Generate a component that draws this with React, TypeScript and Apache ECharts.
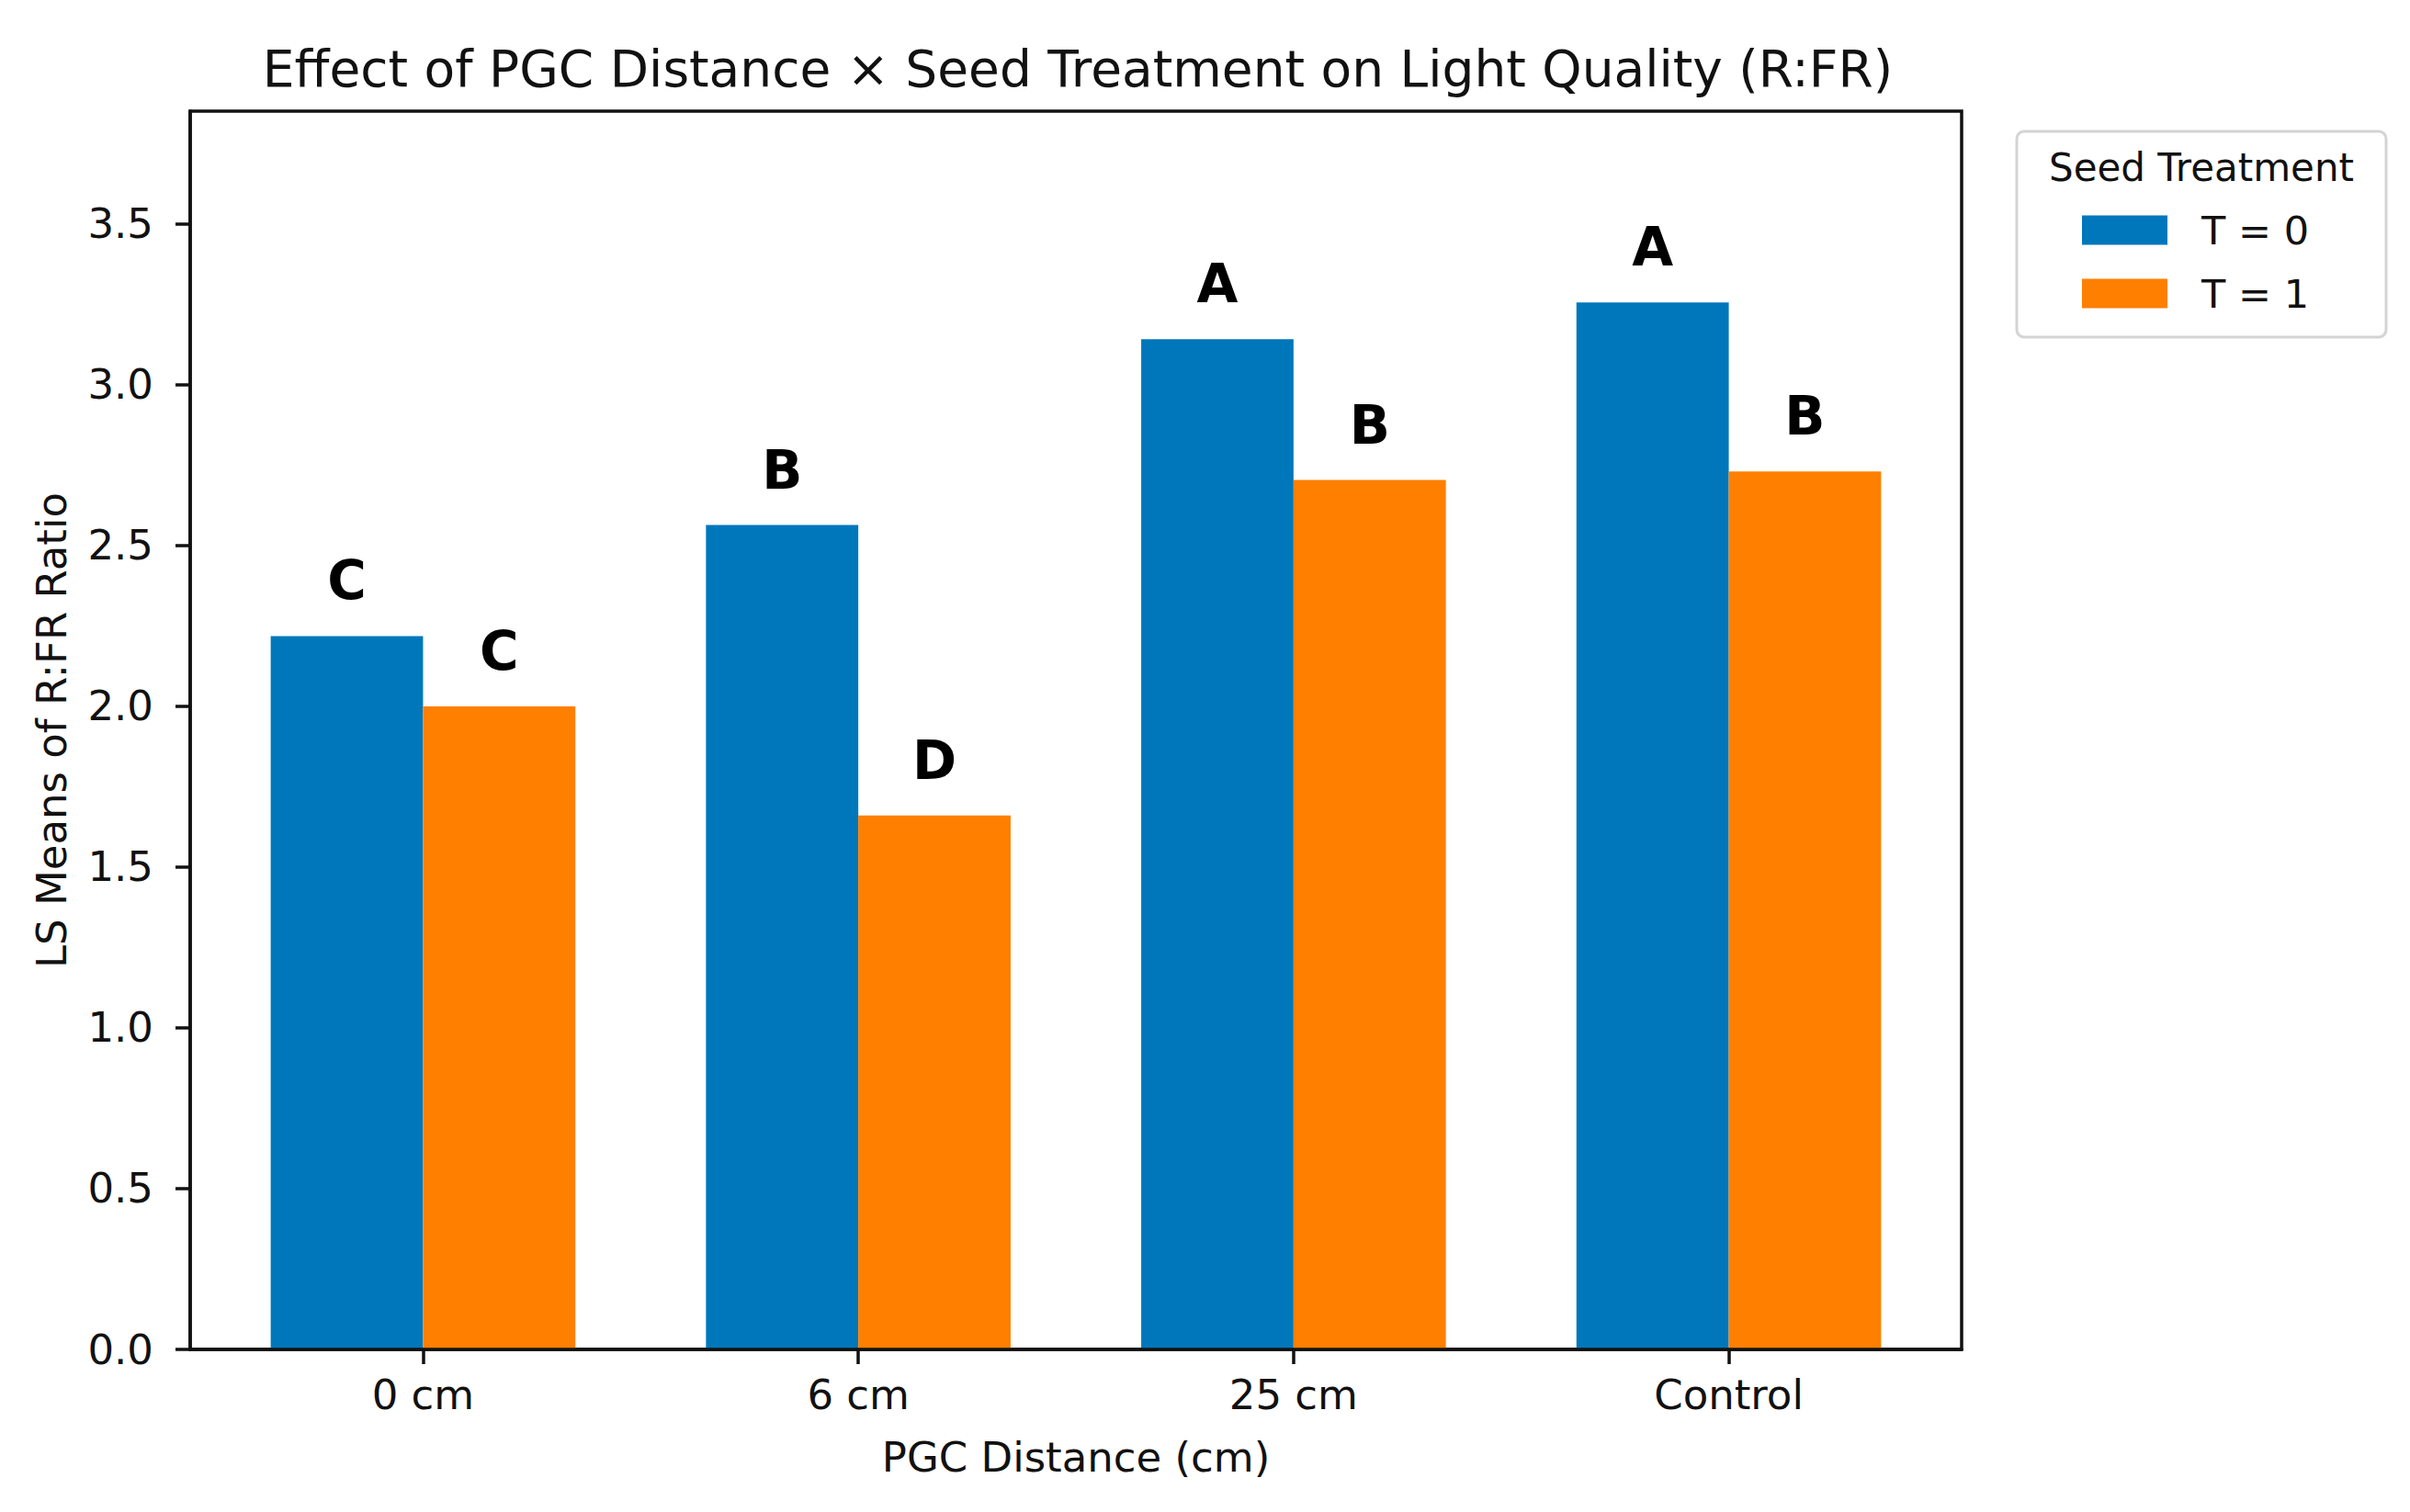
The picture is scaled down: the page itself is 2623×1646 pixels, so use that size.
import React, { useEffect, useRef } from "react";
import * as echarts from "echarts";

const CATEGORIES = ["0 cm", "6 cm", "25 cm", "Control"];
const SERIES_NAMES = ["T = 0", "T = 1"];
const T0_VALUES = [2.218, 2.563, 3.141, 3.255];
const T1_VALUES = [1.999, 1.66, 2.703, 2.73];
const T0_LETTERS = ["C", "B", "A", "A"];
const T1_LETTERS = ["C", "D", "B", "B"];
const Y_TICKS = [0, 0.5, 1.0, 1.5, 2.0, 2.5, 3.0, 3.5];
const X_TICKS = [0, 1, 2, 3];
const COLORS = ["#0077BB", "#FF7F00"];

const BAR_W = 0.35;
const FONT = "DejaVu Sans";

function makeSeries(name: string, values: number[], letters: string[], color: string, offset: number) {
  return {
    type: "custom",
    name,
    z: 2,
    itemStyle: { color },
    encode: { x: 0, y: 1 },
    data: values.map((v, i) => [i, v]),
    renderItem: (params: any, api: any) => {
      const idx = api.value(0);
      const val = api.value(1);
      const cx = idx + offset;
      const p0 = api.coord([cx - BAR_W / 2, val]);
      const p1 = api.coord([cx + BAR_W / 2, 0]);
      return {
        type: "group",
        children: [
          {
            type: "rect",
            shape: { x: p0[0], y: p0[1], width: p1[0] - p0[0], height: p1[1] - p0[1] },
            style: { fill: color },
          },
          {
            type: "text",
            x: (p0[0] + p1[0]) / 2,
            y: p0[1] - 60,
            style: {
              text: letters[idx],
              fill: "#000",
              fontSize: 58,
              fontWeight: "bold",
              fontFamily: FONT,
              align: "center",
              verticalAlign: "middle",
            },
          },
        ],
      };
    },
  };
}

export default function App() {
  const ref = useRef<HTMLDivElement>(null);
  useEffect(() => {
    if (!ref.current) return;
    const chart = echarts.init(ref.current, null, { renderer: "svg" });
    const option: any = {
      animation: false,
      backgroundColor: "#fff",
      textStyle: { fontFamily: FONT },
      title: {
        text: "Effect of PGC Distance × Seed Treatment on Light Quality (R:FR)",
        left: 1168,
        top: 42,
        textAlign: "center",
        textStyle: { fontFamily: FONT, fontSize: 55, fontWeight: "normal", color: "#111" },
      },
      grid: {
        left: 207,
        top: 121,
        width: 1928,
        height: 1348,
        show: true,
        borderColor: "#111",
        borderWidth: 3.5,
        backgroundColor: "transparent",
      },
      xAxis: {
        type: "value",
        min: -0.535,
        max: 3.535,
        z: 5,
        name: "PGC Distance (cm)",
        nameLocation: "middle",
        nameGap: 95,
        nameTextStyle: { fontFamily: FONT, fontSize: 45, color: "#111" },
        splitLine: { show: false },
        axisLine: { show: true, onZero: false, lineStyle: { color: "#111", width: 3.5 } },
        axisTick: { show: true, length: 16, lineStyle: { color: "#111", width: 3.5 }, customValues: X_TICKS },
        axisLabel: {
          customValues: X_TICKS,
          margin: 27,
          fontFamily: FONT,
          fontSize: 45,
          color: "#111",
          formatter: (v: number) => CATEGORIES[Math.round(v)] ?? "",
        },
      },
      yAxis: {
        type: "value",
        min: 0,
        max: 3.85,
        z: 5,
        name: "LS Means of R:FR Ratio",
        nameLocation: "middle",
        nameGap: 128,
        nameTextStyle: { fontFamily: FONT, fontSize: 45, color: "#111" },
        splitLine: { show: false },
        axisLine: { show: true, onZero: false, lineStyle: { color: "#111", width: 3.5 } },
        axisTick: { show: true, length: 16, lineStyle: { color: "#111", width: 3.5 }, customValues: Y_TICKS },
        axisLabel: {
          customValues: Y_TICKS,
          margin: 40,
          fontFamily: FONT,
          fontSize: 45,
          color: "#111",
          formatter: (v: number) => v.toFixed(1),
        },
      },
      legend: {
        orient: "vertical",
        left: 2266,
        top: 229,
        padding: 0,
        z: 10,
        itemWidth: 93,
        itemHeight: 32,
        itemGap: 26,
        data: SERIES_NAMES.map((n) => ({ name: n, icon: "rect" })),
        textStyle: { fontFamily: FONT, fontSize: 43, color: "#111", padding: [0, 0, 0, 32] },
      },
      graphic: [
        {
          type: "rect",
          z: 0,
          shape: { x: 2195, y: 143, width: 402, height: 224, r: 8 },
          style: { fill: "#fff", stroke: "#d4d4d4", lineWidth: 3 },
        },
        {
          type: "text",
          z: 1,
          x: 2396,
          y: 182,
          style: {
            text: "Seed Treatment",
            fill: "#111",
            fontSize: 42,
            fontFamily: FONT,
            align: "center",
            verticalAlign: "middle",
          },
        },
      ],
      series: [
        makeSeries(SERIES_NAMES[0], T0_VALUES, T0_LETTERS, COLORS[0], -BAR_W / 2),
        makeSeries(SERIES_NAMES[1], T1_VALUES, T1_LETTERS, COLORS[1], BAR_W / 2),
      ],
    };
    chart.setOption(option);
    return () => chart.dispose();
  }, []);
  return (
    <div
      ref={ref}
      style={{ position: "fixed", left: 0, top: 0, width: 2623, height: 1646, background: "#fff" }}
    />
  );
}
